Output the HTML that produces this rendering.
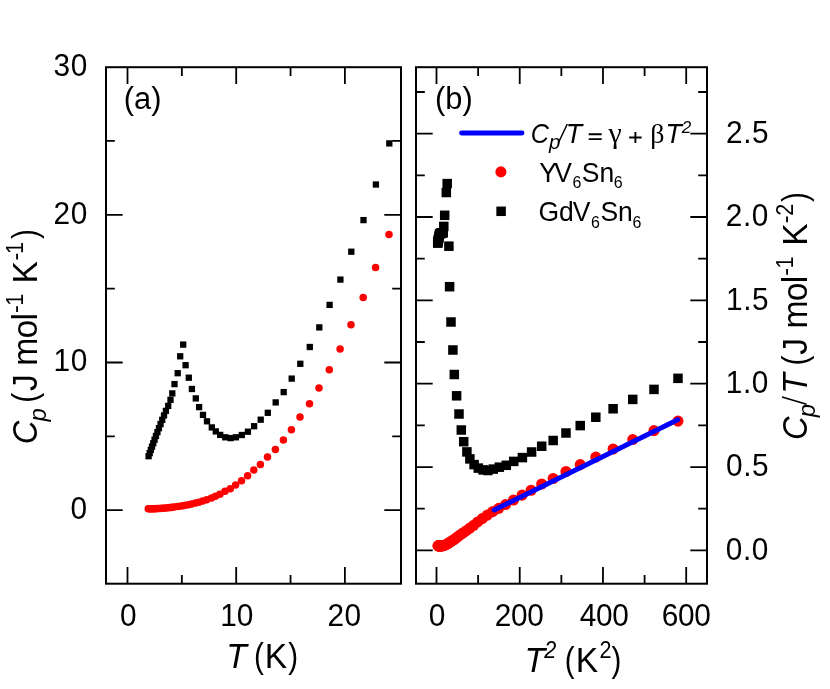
<!DOCTYPE html>
<html><head><meta charset="utf-8"><title>Heat capacity</title>
<style>html,body{margin:0;padding:0;background:#fff;}body{width:830px;height:689px;overflow:hidden;font-family:"Liberation Sans",sans-serif;}svg{display:block;will-change:transform;}</style>
</head><body>
<svg width="830" height="689" viewBox="0 0 830 689">
<rect width="830" height="689" fill="#fff"/>
<rect x="106.0" y="67.2" width="295.0" height="516.5" fill="none" stroke="#000" stroke-width="2.0"/>
<rect x="416.0" y="67.2" width="291.0" height="516.5" fill="none" stroke="#000" stroke-width="2.0"/>
<path d="M127.50 583.7v-16.7M127.50 67.2v16.7" stroke="#000" stroke-width="1.8" fill="none"/>
<path d="M236.20 583.7v-16.7M236.20 67.2v16.7" stroke="#000" stroke-width="1.8" fill="none"/>
<path d="M344.90 583.7v-16.7M344.90 67.2v16.7" stroke="#000" stroke-width="1.8" fill="none"/>
<path d="M181.85 583.7v-8.8M181.85 67.2v8.8" stroke="#000" stroke-width="1.8" fill="none"/>
<path d="M290.55 583.7v-8.8M290.55 67.2v8.8" stroke="#000" stroke-width="1.8" fill="none"/>
<path d="M106.0 510.20h16.7M401.0 510.20h-16.7" stroke="#000" stroke-width="1.8" fill="none"/>
<path d="M106.0 362.50h16.7M401.0 362.50h-16.7" stroke="#000" stroke-width="1.8" fill="none"/>
<path d="M106.0 214.80h16.7M401.0 214.80h-16.7" stroke="#000" stroke-width="1.8" fill="none"/>
<path d="M106.0 436.35h8.8M401.0 436.35h-8.8" stroke="#000" stroke-width="1.8" fill="none"/>
<path d="M106.0 288.65h8.8M401.0 288.65h-8.8" stroke="#000" stroke-width="1.8" fill="none"/>
<path d="M106.0 140.95h8.8M401.0 140.95h-8.8" stroke="#000" stroke-width="1.8" fill="none"/>
<path d="M436.50 583.7v-16.7M436.50 67.2v16.7" stroke="#000" stroke-width="1.8" fill="none"/>
<path d="M519.73 583.7v-16.7M519.73 67.2v16.7" stroke="#000" stroke-width="1.8" fill="none"/>
<path d="M602.97 583.7v-16.7M602.97 67.2v16.7" stroke="#000" stroke-width="1.8" fill="none"/>
<path d="M686.20 583.7v-16.7M686.20 67.2v16.7" stroke="#000" stroke-width="1.8" fill="none"/>
<path d="M478.12 583.7v-8.8M478.12 67.2v8.8" stroke="#000" stroke-width="1.8" fill="none"/>
<path d="M561.35 583.7v-8.8M561.35 67.2v8.8" stroke="#000" stroke-width="1.8" fill="none"/>
<path d="M644.59 583.7v-8.8M644.59 67.2v8.8" stroke="#000" stroke-width="1.8" fill="none"/>
<path d="M416.0 550.40h16.7M707.0 550.40h-16.7" stroke="#000" stroke-width="1.8" fill="none"/>
<path d="M416.0 467.05h16.7M707.0 467.05h-16.7" stroke="#000" stroke-width="1.8" fill="none"/>
<path d="M416.0 383.70h16.7M707.0 383.70h-16.7" stroke="#000" stroke-width="1.8" fill="none"/>
<path d="M416.0 300.35h16.7M707.0 300.35h-16.7" stroke="#000" stroke-width="1.8" fill="none"/>
<path d="M416.0 217.00h16.7M707.0 217.00h-16.7" stroke="#000" stroke-width="1.8" fill="none"/>
<path d="M416.0 133.65h16.7M707.0 133.65h-16.7" stroke="#000" stroke-width="1.8" fill="none"/>
<path d="M416.0 508.72h8.8M707.0 508.72h-8.8" stroke="#000" stroke-width="1.8" fill="none"/>
<path d="M416.0 425.38h8.8M707.0 425.38h-8.8" stroke="#000" stroke-width="1.8" fill="none"/>
<path d="M416.0 342.02h8.8M707.0 342.02h-8.8" stroke="#000" stroke-width="1.8" fill="none"/>
<path d="M416.0 258.68h8.8M707.0 258.68h-8.8" stroke="#000" stroke-width="1.8" fill="none"/>
<path d="M416.0 175.32h8.8M707.0 175.32h-8.8" stroke="#000" stroke-width="1.8" fill="none"/>
<path d="M416.0 91.98h8.8M707.0 91.98h-8.8" stroke="#000" stroke-width="1.8" fill="none"/>
<rect x="145.45" y="453.05" width="6.3" height="6.3" fill="#000"/>
<rect x="146.53" y="450.00" width="6.3" height="6.3" fill="#000"/>
<rect x="147.66" y="446.82" width="6.3" height="6.3" fill="#000"/>
<rect x="148.85" y="443.52" width="6.3" height="6.3" fill="#000"/>
<rect x="150.10" y="440.09" width="6.3" height="6.3" fill="#000"/>
<rect x="151.42" y="436.52" width="6.3" height="6.3" fill="#000"/>
<rect x="152.80" y="432.82" width="6.3" height="6.3" fill="#000"/>
<rect x="154.26" y="428.99" width="6.3" height="6.3" fill="#000"/>
<rect x="155.79" y="425.02" width="6.3" height="6.3" fill="#000"/>
<rect x="157.40" y="420.90" width="6.3" height="6.3" fill="#000"/>
<rect x="159.09" y="416.66" width="6.3" height="6.3" fill="#000"/>
<rect x="160.88" y="412.27" width="6.3" height="6.3" fill="#000"/>
<rect x="162.75" y="407.75" width="6.3" height="6.3" fill="#000"/>
<rect x="165.05" y="402.75" width="6.3" height="6.3" fill="#000"/>
<rect x="167.35" y="396.65" width="6.3" height="6.3" fill="#000"/>
<rect x="169.15" y="390.25" width="6.3" height="6.3" fill="#000"/>
<rect x="171.35" y="380.95" width="6.3" height="6.3" fill="#000"/>
<rect x="174.55" y="370.05" width="6.3" height="6.3" fill="#000"/>
<rect x="177.05" y="353.15" width="6.3" height="6.3" fill="#000"/>
<rect x="180.05" y="341.45" width="6.3" height="6.3" fill="#000"/>
<rect x="182.45" y="362.05" width="6.3" height="6.3" fill="#000"/>
<rect x="185.65" y="374.55" width="6.3" height="6.3" fill="#000"/>
<rect x="188.75" y="385.85" width="6.3" height="6.3" fill="#000"/>
<rect x="192.65" y="395.25" width="6.3" height="6.3" fill="#000"/>
<rect x="195.95" y="403.95" width="6.3" height="6.3" fill="#000"/>
<rect x="199.85" y="411.75" width="6.3" height="6.3" fill="#000"/>
<rect x="203.85" y="418.15" width="6.3" height="6.3" fill="#000"/>
<rect x="208.65" y="424.25" width="6.3" height="6.3" fill="#000"/>
<rect x="212.65" y="428.25" width="6.3" height="6.3" fill="#000"/>
<rect x="217.05" y="431.75" width="6.3" height="6.3" fill="#000"/>
<rect x="222.15" y="434.15" width="6.3" height="6.3" fill="#000"/>
<rect x="227.45" y="434.95" width="6.3" height="6.3" fill="#000"/>
<rect x="232.75" y="434.15" width="6.3" height="6.3" fill="#000"/>
<rect x="238.65" y="431.85" width="6.3" height="6.3" fill="#000"/>
<rect x="244.75" y="428.55" width="6.3" height="6.3" fill="#000"/>
<rect x="250.95" y="423.05" width="6.3" height="6.3" fill="#000"/>
<rect x="257.55" y="416.55" width="6.3" height="6.3" fill="#000"/>
<rect x="264.65" y="409.65" width="6.3" height="6.3" fill="#000"/>
<rect x="272.55" y="399.25" width="6.3" height="6.3" fill="#000"/>
<rect x="280.55" y="388.95" width="6.3" height="6.3" fill="#000"/>
<rect x="288.55" y="375.45" width="6.3" height="6.3" fill="#000"/>
<rect x="297.15" y="360.65" width="6.3" height="6.3" fill="#000"/>
<rect x="306.65" y="343.85" width="6.3" height="6.3" fill="#000"/>
<rect x="316.15" y="324.25" width="6.3" height="6.3" fill="#000"/>
<rect x="326.45" y="301.75" width="6.3" height="6.3" fill="#000"/>
<rect x="337.25" y="276.45" width="6.3" height="6.3" fill="#000"/>
<rect x="348.15" y="248.55" width="6.3" height="6.3" fill="#000"/>
<rect x="360.35" y="216.95" width="6.3" height="6.3" fill="#000"/>
<rect x="372.75" y="181.35" width="6.3" height="6.3" fill="#000"/>
<rect x="386.15" y="140.25" width="6.3" height="6.3" fill="#000"/>
<circle cx="148.30" cy="508.80" r="3.75" fill="#f00"/>
<circle cx="149.38" cy="508.77" r="3.75" fill="#f00"/>
<circle cx="150.51" cy="508.75" r="3.75" fill="#f00"/>
<circle cx="151.70" cy="508.73" r="3.75" fill="#f00"/>
<circle cx="152.95" cy="508.70" r="3.75" fill="#f00"/>
<circle cx="154.27" cy="508.68" r="3.75" fill="#f00"/>
<circle cx="155.65" cy="508.65" r="3.75" fill="#f00"/>
<circle cx="157.11" cy="508.62" r="3.75" fill="#f00"/>
<circle cx="158.64" cy="508.56" r="3.75" fill="#f00"/>
<circle cx="160.25" cy="508.42" r="3.75" fill="#f00"/>
<circle cx="161.94" cy="508.28" r="3.75" fill="#f00"/>
<circle cx="163.73" cy="508.13" r="3.75" fill="#f00"/>
<circle cx="165.60" cy="507.98" r="3.75" fill="#f00"/>
<circle cx="167.90" cy="507.78" r="3.75" fill="#f00"/>
<circle cx="170.20" cy="507.59" r="3.75" fill="#f00"/>
<circle cx="172.00" cy="507.33" r="3.75" fill="#f00"/>
<circle cx="174.20" cy="507.02" r="3.75" fill="#f00"/>
<circle cx="177.40" cy="506.57" r="3.75" fill="#f00"/>
<circle cx="179.90" cy="506.22" r="3.75" fill="#f00"/>
<circle cx="182.90" cy="505.76" r="3.75" fill="#f00"/>
<circle cx="185.30" cy="505.28" r="3.75" fill="#f00"/>
<circle cx="188.50" cy="504.64" r="3.75" fill="#f00"/>
<circle cx="191.60" cy="504.02" r="3.75" fill="#f00"/>
<circle cx="195.50" cy="503.11" r="3.75" fill="#f00"/>
<circle cx="198.80" cy="502.13" r="3.75" fill="#f00"/>
<circle cx="202.70" cy="500.97" r="3.75" fill="#f00"/>
<circle cx="206.70" cy="499.75" r="3.75" fill="#f00"/>
<circle cx="211.50" cy="497.91" r="3.75" fill="#f00"/>
<circle cx="215.50" cy="496.37" r="3.75" fill="#f00"/>
<circle cx="219.90" cy="494.30" r="3.75" fill="#f00"/>
<circle cx="225.00" cy="491.20" r="3.75" fill="#f00"/>
<circle cx="230.30" cy="488.80" r="3.75" fill="#f00"/>
<circle cx="235.60" cy="485.10" r="3.75" fill="#f00"/>
<circle cx="241.50" cy="480.80" r="3.75" fill="#f00"/>
<circle cx="247.60" cy="475.70" r="3.75" fill="#f00"/>
<circle cx="253.80" cy="470.10" r="3.75" fill="#f00"/>
<circle cx="260.40" cy="464.40" r="3.75" fill="#f00"/>
<circle cx="267.50" cy="457.10" r="3.75" fill="#f00"/>
<circle cx="275.40" cy="449.40" r="3.75" fill="#f00"/>
<circle cx="283.40" cy="440.00" r="3.75" fill="#f00"/>
<circle cx="291.40" cy="429.80" r="3.75" fill="#f00"/>
<circle cx="300.00" cy="417.10" r="3.75" fill="#f00"/>
<circle cx="309.50" cy="403.70" r="3.75" fill="#f00"/>
<circle cx="319.00" cy="388.10" r="3.75" fill="#f00"/>
<circle cx="329.30" cy="369.80" r="3.75" fill="#f00"/>
<circle cx="340.10" cy="349.10" r="3.75" fill="#f00"/>
<circle cx="351.00" cy="324.80" r="3.75" fill="#f00"/>
<circle cx="363.20" cy="297.40" r="3.75" fill="#f00"/>
<circle cx="375.60" cy="267.60" r="3.75" fill="#f00"/>
<circle cx="389.00" cy="234.40" r="3.75" fill="#f00"/>
<rect x="432.95" y="238.35" width="9.5" height="9.5" fill="#000"/>
<rect x="433.04" y="237.93" width="9.5" height="9.5" fill="#000"/>
<rect x="433.21" y="237.04" width="9.5" height="9.5" fill="#000"/>
<rect x="433.41" y="236.06" width="9.5" height="9.5" fill="#000"/>
<rect x="433.63" y="234.98" width="9.5" height="9.5" fill="#000"/>
<rect x="433.87" y="233.78" width="9.5" height="9.5" fill="#000"/>
<rect x="434.14" y="232.46" width="9.5" height="9.5" fill="#000"/>
<rect x="434.44" y="230.99" width="9.5" height="9.5" fill="#000"/>
<rect x="434.77" y="229.37" width="9.5" height="9.5" fill="#000"/>
<rect x="435.13" y="228.88" width="9.5" height="9.5" fill="#000"/>
<rect x="435.53" y="228.78" width="9.5" height="9.5" fill="#000"/>
<rect x="435.97" y="228.67" width="9.5" height="9.5" fill="#000"/>
<rect x="436.46" y="228.55" width="9.5" height="9.5" fill="#000"/>
<rect x="437.10" y="228.40" width="9.5" height="9.5" fill="#000"/>
<rect x="437.77" y="228.23" width="9.5" height="9.5" fill="#000"/>
<rect x="438.50" y="227.85" width="9.5" height="9.5" fill="#000"/>
<rect x="439.05" y="221.65" width="9.5" height="9.5" fill="#000"/>
<rect x="439.95" y="210.55" width="9.5" height="9.5" fill="#000"/>
<rect x="441.55" y="187.75" width="9.5" height="9.5" fill="#000"/>
<rect x="442.45" y="178.85" width="9.5" height="9.5" fill="#000"/>
<rect x="444.15" y="241.45" width="9.5" height="9.5" fill="#000"/>
<rect x="444.85" y="281.95" width="9.5" height="9.5" fill="#000"/>
<rect x="446.25" y="317.25" width="9.5" height="9.5" fill="#000"/>
<rect x="448.15" y="345.25" width="9.5" height="9.5" fill="#000"/>
<rect x="449.55" y="369.75" width="9.5" height="9.5" fill="#000"/>
<rect x="451.85" y="391.05" width="9.5" height="9.5" fill="#000"/>
<rect x="454.25" y="409.25" width="9.5" height="9.5" fill="#000"/>
<rect x="456.55" y="425.25" width="9.5" height="9.5" fill="#000"/>
<rect x="458.95" y="436.95" width="9.5" height="9.5" fill="#000"/>
<rect x="462.15" y="447.15" width="9.5" height="9.5" fill="#000"/>
<rect x="465.15" y="454.15" width="9.5" height="9.5" fill="#000"/>
<rect x="469.35" y="459.85" width="9.5" height="9.5" fill="#000"/>
<rect x="473.55" y="463.35" width="9.5" height="9.5" fill="#000"/>
<rect x="478.35" y="465.15" width="9.5" height="9.5" fill="#000"/>
<rect x="483.15" y="465.76" width="9.5" height="9.5" fill="#000"/>
<rect x="488.53" y="464.36" width="9.5" height="9.5" fill="#000"/>
<rect x="494.56" y="462.43" width="9.5" height="9.5" fill="#000"/>
<rect x="501.55" y="460.55" width="9.5" height="9.5" fill="#000"/>
<rect x="508.95" y="456.65" width="9.5" height="9.5" fill="#000"/>
<rect x="517.65" y="452.85" width="9.5" height="9.5" fill="#000"/>
<rect x="526.85" y="447.25" width="9.5" height="9.5" fill="#000"/>
<rect x="536.93" y="441.48" width="9.5" height="9.5" fill="#000"/>
<rect x="548.41" y="435.74" width="9.5" height="9.5" fill="#000"/>
<rect x="561.23" y="428.25" width="9.5" height="9.5" fill="#000"/>
<rect x="575.49" y="420.85" width="9.5" height="9.5" fill="#000"/>
<rect x="591.05" y="412.48" width="9.5" height="9.5" fill="#000"/>
<rect x="608.35" y="404.02" width="9.5" height="9.5" fill="#000"/>
<rect x="627.99" y="394.67" width="9.5" height="9.5" fill="#000"/>
<rect x="649.25" y="384.65" width="9.5" height="9.5" fill="#000"/>
<rect x="673.23" y="373.59" width="9.5" height="9.5" fill="#000"/>
<circle cx="438.02" cy="545.90" r="5.55" fill="#f00"/>
<circle cx="438.19" cy="545.90" r="5.55" fill="#f00"/>
<circle cx="438.36" cy="545.90" r="5.55" fill="#f00"/>
<circle cx="438.56" cy="545.90" r="5.55" fill="#f00"/>
<circle cx="438.78" cy="545.90" r="5.55" fill="#f00"/>
<circle cx="439.02" cy="545.90" r="5.55" fill="#f00"/>
<circle cx="439.29" cy="545.90" r="5.55" fill="#f00"/>
<circle cx="439.59" cy="545.90" r="5.55" fill="#f00"/>
<circle cx="439.92" cy="545.90" r="5.55" fill="#f00"/>
<circle cx="440.28" cy="545.90" r="5.55" fill="#f00"/>
<circle cx="440.68" cy="545.90" r="5.55" fill="#f00"/>
<circle cx="441.12" cy="545.90" r="5.55" fill="#f00"/>
<circle cx="441.61" cy="545.90" r="5.55" fill="#f00"/>
<circle cx="442.25" cy="545.83" r="5.55" fill="#f00"/>
<circle cx="442.92" cy="545.70" r="5.55" fill="#f00"/>
<circle cx="443.47" cy="545.59" r="5.55" fill="#f00"/>
<circle cx="444.18" cy="545.44" r="5.55" fill="#f00"/>
<circle cx="445.27" cy="544.95" r="5.55" fill="#f00"/>
<circle cx="446.17" cy="544.49" r="5.55" fill="#f00"/>
<circle cx="447.31" cy="543.84" r="5.55" fill="#f00"/>
<circle cx="448.27" cy="543.24" r="5.55" fill="#f00"/>
<circle cx="449.61" cy="542.41" r="5.55" fill="#f00"/>
<circle cx="450.97" cy="541.55" r="5.55" fill="#f00"/>
<circle cx="452.79" cy="540.42" r="5.55" fill="#f00"/>
<circle cx="454.41" cy="539.24" r="5.55" fill="#f00"/>
<circle cx="456.42" cy="537.75" r="5.55" fill="#f00"/>
<circle cx="458.59" cy="536.13" r="5.55" fill="#f00"/>
<circle cx="461.35" cy="534.15" r="5.55" fill="#f00"/>
<circle cx="463.78" cy="532.43" r="5.55" fill="#f00"/>
<circle cx="466.57" cy="530.44" r="5.55" fill="#f00"/>
<circle cx="469.98" cy="528.02" r="5.55" fill="#f00"/>
<circle cx="473.72" cy="525.21" r="5.55" fill="#f00"/>
<circle cx="477.66" cy="521.93" r="5.55" fill="#f00"/>
<circle cx="482.27" cy="518.58" r="5.55" fill="#f00"/>
<circle cx="487.30" cy="515.12" r="5.55" fill="#f00"/>
<circle cx="492.68" cy="511.67" r="5.55" fill="#f00"/>
<circle cx="498.71" cy="508.35" r="5.55" fill="#f00"/>
<circle cx="505.53" cy="504.56" r="5.55" fill="#f00"/>
<circle cx="513.55" cy="499.97" r="5.55" fill="#f00"/>
<circle cx="522.11" cy="495.16" r="5.55" fill="#f00"/>
<circle cx="531.12" cy="490.22" r="5.55" fill="#f00"/>
<circle cx="541.68" cy="484.04" r="5.55" fill="#f00"/>
<circle cx="553.16" cy="478.51" r="5.55" fill="#f00"/>
<circle cx="565.98" cy="471.49" r="5.55" fill="#f00"/>
<circle cx="580.24" cy="464.67" r="5.55" fill="#f00"/>
<circle cx="595.80" cy="457.17" r="5.55" fill="#f00"/>
<circle cx="613.10" cy="448.97" r="5.55" fill="#f00"/>
<circle cx="632.74" cy="439.57" r="5.55" fill="#f00"/>
<circle cx="654.00" cy="430.62" r="5.55" fill="#f00"/>
<circle cx="677.98" cy="421.10" r="5.55" fill="#f00"/>
<path d="M494.2 510.0L677.7 419.7" stroke="#00f" stroke-width="5" stroke-linecap="round" fill="none"/>
<path d="M461.5 133H522" stroke="#00f" stroke-width="4.8" stroke-linecap="round" fill="none"/>
<circle cx="500.9" cy="171.9" r="5.55" fill="#f00"/>
<rect x="496.35" y="206.55" width="9.5" height="9.5" fill="#000"/>
<g font-family="'Liberation Sans', sans-serif" fill="#000">
<text transform="translate(53.44,75.85) scale(0.94,1)" font-size="31.7" letter-spacing="0.7">30</text>
<text transform="translate(53.44,223.55) scale(0.94,1)" font-size="31.7" letter-spacing="0.7">20</text>
<text transform="translate(53.44,371.25) scale(0.94,1)" font-size="31.7" letter-spacing="0.7">10</text>
<text transform="translate(70.59,518.95) scale(0.94,1)" font-size="31.7">0</text>
<text transform="translate(119.92,625.75) scale(0.94,1)" font-size="31.7">0</text>
<text transform="translate(220.15,625.75) scale(0.94,1)" font-size="31.7">10</text>
<text transform="translate(327.49,625.75) scale(0.94,1)" font-size="31.7" letter-spacing="0.5">20</text>
<text transform="translate(428.82,625.55) scale(0.94,1)" font-size="31.7">0</text>
<text transform="translate(494.79,625.55) scale(0.94,1)" font-size="31.7" letter-spacing="-0.3">200</text>
<text transform="translate(579.69,625.55) scale(0.94,1)" font-size="31.7" letter-spacing="-0.3">400</text>
<text transform="translate(661.79,625.55) scale(0.94,1)" font-size="31.7" letter-spacing="-0.3">600</text>
<text transform="translate(725.81,559.55) scale(0.94,1)" font-size="31.7" letter-spacing="0.65">0.0</text>
<text transform="translate(726.04,476.20) scale(0.94,1)" font-size="31.7" letter-spacing="0.65">0.5</text>
<text transform="translate(725.81,392.85) scale(0.94,1)" font-size="31.7" letter-spacing="0.65">1.0</text>
<text transform="translate(726.04,309.50) scale(0.94,1)" font-size="31.7" letter-spacing="0.65">1.5</text>
<text transform="translate(725.81,226.15) scale(0.94,1)" font-size="31.7" letter-spacing="0.65">2.0</text>
<text transform="translate(726.04,142.80) scale(0.94,1)" font-size="31.7" letter-spacing="0.65">2.5</text>
<text x="123.80" y="109.25" font-size="30.8">(a)</text>
<text x="435.00" y="109.25" font-size="30.8">(b)</text>
<text transform="translate(226.29,668.10) scale(0.957,1)" font-size="35.2" font-style="italic">T</text>
<text transform="translate(253.92,668.10) scale(0.84,1)" font-size="35.2">(</text>
<text transform="translate(264.63,668.10) scale(0.957,1)" font-size="35.2">K</text>
<text transform="translate(288.25,668.10) scale(0.84,1)" font-size="35.2">)</text>
<text transform="translate(524.49,672.20) scale(0.957,1)" font-size="35.2" font-style="italic">T</text>
<text transform="translate(544.20,658.40) scale(0.94,1)" font-size="23" font-style="italic">2</text>
<text transform="translate(564.73,672.20) scale(0.84,1)" font-size="35.2">(</text>
<text transform="translate(575.63,672.20) scale(0.957,1)" font-size="35.2">K</text>
<text transform="translate(599.42,658.40) scale(0.94,1)" font-size="23">2</text>
<text transform="translate(611.50,672.20) scale(0.84,1)" font-size="35.2">)</text>
<text transform="translate(37.10,0) rotate(-90) translate(-444.26,0) scale(0.93,1)" font-size="35.2" font-style="italic">C</text>
<text transform="translate(46.00,0) rotate(-90) translate(-421.60,0) scale(1.0,1)" font-size="24" font-style="italic">p</text>
<text transform="translate(37.10,0) rotate(-90) translate(-402.72,0) scale(0.84,1)" font-size="35.2">(</text>
<text transform="translate(37.10,0) rotate(-90) translate(-390.98,0) scale(0.957,1)" font-size="35.2">J</text>
<text transform="translate(37.10,0) rotate(-90) translate(-365.75,0) scale(0.957,1)" font-size="35.2" letter-spacing="-0.8">mol</text>
<text transform="translate(23.10,0) rotate(-90) translate(-313.00,0) scale(1.0,1)" font-size="23">-</text>
<text transform="translate(23.10,0) rotate(-90) translate(-305.64,0) scale(0.94,1)" font-size="23">1</text>
<text transform="translate(37.10,0) rotate(-90) translate(-283.47,0) scale(0.957,1)" font-size="35.2">K</text>
<text transform="translate(23.10,0) rotate(-90) translate(-260.60,0) scale(1.0,1)" font-size="23">-</text>
<text transform="translate(23.10,0) rotate(-90) translate(-254.04,0) scale(0.94,1)" font-size="23">1</text>
<text transform="translate(37.10,0) rotate(-90) translate(-239.04,0) scale(0.84,1)" font-size="35.2">)</text>
<text transform="translate(807.00,0) rotate(-90) translate(-439.96,0) scale(0.93,1)" font-size="35.2" font-style="italic">C</text>
<text transform="translate(815.10,0) rotate(-90) translate(-417.20,0) scale(1.0,1)" font-size="24" font-style="italic">p</text>
<path d="M806.6 404.2L782.0 397.0" stroke="#000" stroke-width="1.6" fill="none"/>
<text transform="translate(807.00,0) rotate(-90) translate(-393.71,0) scale(0.957,1)" font-size="35.2" font-style="italic">T</text>
<text transform="translate(807.00,0) rotate(-90) translate(-365.62,0) scale(0.84,1)" font-size="35.2">(</text>
<text transform="translate(807.00,0) rotate(-90) translate(-354.78,0) scale(0.957,1)" font-size="35.2">J</text>
<text transform="translate(807.00,0) rotate(-90) translate(-328.55,0) scale(0.957,1)" font-size="35.2" letter-spacing="-0.8">mol</text>
<text transform="translate(792.80,0) rotate(-90) translate(-275.80,0) scale(1.0,1)" font-size="23">-</text>
<text transform="translate(792.80,0) rotate(-90) translate(-268.54,0) scale(0.94,1)" font-size="23">1</text>
<text transform="translate(807.00,0) rotate(-90) translate(-245.67,0) scale(0.957,1)" font-size="35.2">K</text>
<text transform="translate(792.80,0) rotate(-90) translate(-223.20,0) scale(1.0,1)" font-size="23">-</text>
<text transform="translate(792.80,0) rotate(-90) translate(-215.68,0) scale(0.94,1)" font-size="23">2</text>
<text transform="translate(807.00,0) rotate(-90) translate(-201.94,0) scale(0.84,1)" font-size="35.2">)</text>
<text transform="translate(530.65,142.80) scale(0.9,1)" font-size="28" font-style="italic">C</text>
<text x="549.10" y="149.15" font-size="20.5" font-style="italic">p</text>
<path d="M558.2 143.2L567.3 124.0" stroke="#000" stroke-width="1.5" fill="none"/>
<text transform="translate(565.71,142.80) scale(0.957,1)" font-size="28" font-style="italic">T</text>
<path d="M588.7 134.2h13M588.7 139.1h13" stroke="#000" stroke-width="1.9" fill="none"/>
<text x="608.40" y="142.80" font-size="30" font-family="'Liberation Serif', serif">γ</text>
<path d="M629.2 137.5h12.4M635.4 131.9v11.2" stroke="#000" stroke-width="1.9" fill="none"/>
<text x="650.15" y="142.80" font-size="28" font-family="'Liberation Serif', serif">β</text>
<text transform="translate(665.61,142.80) scale(0.957,1)" font-size="28" font-style="italic">T</text>
<text x="681.70" y="132.60" font-size="17" font-style="italic">2</text>
<text transform="translate(539.18,181.50) scale(0.96,1)" font-size="27.6">Y</text>
<text transform="translate(554.28,181.50) scale(0.96,1)" font-size="27.6">V</text>
<text transform="translate(572.39,188.25) scale(0.94,1)" font-size="17">6</text>
<text transform="translate(581.80,181.50) scale(0.96,1)" font-size="27.6">Sn</text>
<text transform="translate(613.69,188.25) scale(0.94,1)" font-size="17">6</text>
<text transform="translate(538.46,220.90) scale(0.96,1)" font-size="27.6">Gd</text>
<text transform="translate(572.78,220.90) scale(0.96,1)" font-size="27.6">V</text>
<text transform="translate(590.89,227.85) scale(0.94,1)" font-size="17">6</text>
<text transform="translate(600.40,220.90) scale(0.96,1)" font-size="27.6">Sn</text>
<text transform="translate(632.39,227.85) scale(0.94,1)" font-size="17">6</text>
</g>
</svg>
</body></html>
